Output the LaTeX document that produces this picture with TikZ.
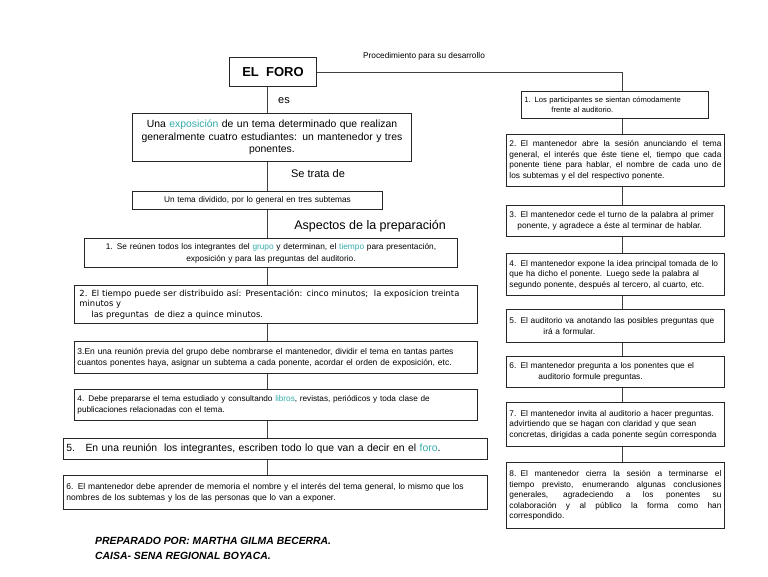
\documentclass[tikz,border=0pt]{standalone}
\usepackage{fontspec}
\setmainfont{Liberation Sans}
\newfontfamily\tahoma{DejaVu Sans}
\usetikzlibrary{positioning,calc}
\definecolor{verdeazul}{RGB}{51,170,170}
\newcommand{\resalta}[1]{\textcolor{verdeazul}{#1}}
\newcommand{\linea}[1]{\makebox[\linewidth][s]{\spaceskip=.28em plus 1fil\relax #1}}
\tikzset{
  caja/.style={draw=black!85,line width=0.9pt,inner sep=3pt,anchor=north west,
    font=\fontsize{8.2}{11}\selectfont},
  cajader/.style={caja,font=\fontsize{8.3}{10.5}\selectfont,align=left,
    text width=212pt,minimum width=218pt},
  tam/.style 2 args={minimum width=#1pt,minimum height=#2pt},
  eje/.style={black!75,line width=0.9pt},
  rotulo/.style={inner sep=0pt},
}

\begin{document}
\begin{tikzpicture}[x=1pt,y=-1pt]
  \useasboundingbox (0,0) rectangle (768,576);
  \coordinate (ejeI) at (267,0);
  \coordinate (ejeD) at (622,0);

  % columna izquierda
  \node[caja,tam={87}{29},font=\fontsize{13}{15}\selectfont\bfseries] (foro) at (229,57) {EL\ \ FORO};
  \node[rotulo,font=\fontsize{8.3}{9}\selectfont] (proc) at (424,56) {Procedimiento para su desarrollo};
  \node[rotulo,font=\fontsize{11}{13}\selectfont] (es) at (284,101) {es};
  \node[caja,tam={279}{48},text width=273pt,align=center,font=\fontsize{10.4}{12.5}\selectfont] (expo) at (132,113)
    {Una \resalta{exposición} de un tema determinado que realizan\\generalmente cuatro estudiantes: un mantenedor y tres\\ponentes.};
  \node[rotulo,font=\fontsize{11}{13}\selectfont] (trata) at (318,174) {Se trata de};
  \node[caja,tam={250}{18},text width=244pt,align=center,font=\fontsize{8.3}{9}\selectfont] (tema) at (132,191)
    {Un tema dividido, por lo general en tres subtemas};
  \node[rotulo,font=\fontsize{12.5}{14}\selectfont] (aspectos) at (370,226) {Aspectos de la preparación};
  \node[caja,tam={373}{29},text width=367pt,align=center,font=\fontsize{8.3}{12}\selectfont] (b1) at (84,238)
    {1. Se reúnen todos los integrantes del \resalta{grupo} y determinan, el \resalta{tiempo} para presentación,\\exposición y para las preguntas del auditorio.};
  \node[caja,tam={403}{38},text width=393pt,inner xsep=5pt,align=left,font=\tahoma\fontsize{8.4}{10.5}\selectfont] (b2) at (74,285)
    {2. El tiempo puede ser distribuido así: Presentación: cinco minutos;\ \ la exposicion treinta\\minutos y\\\hspace*{12pt}las preguntas\ \ de diez a quince minutos.};
  \node[caja,tam={403}{32},text width=397pt,align=left,font=\fontsize{8.5}{11}\selectfont] (b3) at (74,341)
    {3.En una reunión previa del grupo debe nombrarse el mantenedor, dividir el tema en tantas partes\\cuantos ponentes haya, asignar un subtema a cada ponente, acordar el orden de exposición, etc.};
  \node[caja,tam={403}{31},text width=397pt,align=left] (b4) at (74,389)
    {4. Debe prepararse el tema estudiado y consultando \resalta{libros}, revistas, periódicos y toda clase de\\publicaciones relacionadas con el tema.};
  \node[caja,tam={424}{21},text width=418pt,align=left,font=\fontsize{10.4}{12}\selectfont] (b5) at (63,438)
    {5.\ \ \ En una reunión\ \ los integrantes, escriben todo lo que van a decir en el \resalta{foro}.};
  \node[caja,tam={424}{34},text width=418pt,align=left,font=\fontsize{8.5}{11}\selectfont] (b6) at (63,475)
    {6. El mantenedor debe aprender de memoria el nombre y el interés del tema general, lo mismo que los\\nombres de los subtemas y los de las personas que lo van a exponer.};
  \node[rotulo,anchor=north west,align=left,font=\fontsize{10.4}{15}\selectfont\bfseries\itshape] (prep) at (95,537)
    {PREPARADO POR: MARTHA GILMA BECERRA.\\CAISA- SENA REGIONAL BOYACA.};

  % columna derecha
  \node[cajader,tam={187}{27},text width=181pt,font=\fontsize{7.6}{10.5}\selectfont] (r1) at (521,91)
    {1. Los participantes se sientan cómodamente\\\hspace*{27pt}frente al auditorio.};
  \node[cajader,minimum height=52pt] (r2) at (506,134)
    {\linea{2. El mantenedor abre la sesión anunciando el tema}\\
     \linea{general, el interés que éste tiene el, tiempo que cada}\\
     \linea{ponente tiene para hablar, el nombre de cada uno de}\\
     los subtemas y el del respectivo ponente.};
  \node[cajader,minimum height=31pt] (r3) at (506,205)
    {3. El mantenedor cede el turno de la palabra al primer\\\hspace*{8pt}ponente, y agradece a éste al terminar de hablar.};
  \node[cajader,minimum height=42pt] (r4) at (506,253)
    {4. El mantenedor expone la idea principal tomada de lo\\que ha dicho el ponente. Luego sede la palabra al\\segundo ponente, después al tercero, al cuarto, etc.};
  \node[cajader,minimum height=33pt] (r5) at (506,309)
    {5. El auditorio va anotando las posibles preguntas que\\\hspace*{34pt}irá a formular.};
  \node[cajader,minimum height=31pt] (r6) at (506,356)
    {6. El mantenedor pregunta a los ponentes que el\\\hspace*{29pt}auditorio formule preguntas.};
  \node[cajader,minimum height=44pt] (r7) at (506,402)
    {7. El mantenedor invita al auditorio a hacer preguntas.\\advirtiendo que se hagan con claridad y que sean\\concretas, dirigidas a cada ponente según corresponda};
  \node[cajader,minimum height=66pt] (r8) at (506,462)
    {\linea{8. El mantenedor cierra la sesión a terminarse el}\\
     \linea{tiempo previsto, enumerando algunas conclusiones}\\
     \linea{generales, agradeciendo a los ponentes su}\\
     \linea{colaboración y al público la forma como han}\\
     correspondido.};

  % conectores
  \draw[eje] (foro.south -| ejeI) -- (expo.north -| ejeI);
  \draw[eje] (expo.south -| ejeI) -- (tema.north -| ejeI);
  \draw[eje] (tema.south -| ejeI) -- (b1.north -| ejeI);
  \draw[eje] (b1.south -| ejeI) -- (b2.north -| ejeI);
  \draw[eje] (b2.south -| ejeI) -- (b3.north -| ejeI);
  \draw[eje] (b3.south -| ejeI) -- (b4.north -| ejeI);
  \draw[eje] (b4.south -| ejeI) -- (b5.north -| ejeI);
  \draw[eje] (b5.south -| ejeI) -- (b6.north -| ejeI);
  \draw[eje] (foro.east) -| (ejeD |- r1.north);
  \draw[eje] (r1.south -| ejeD) -- (r2.north -| ejeD);
  \draw[eje] (r2.south -| ejeD) -- (r3.north -| ejeD);
  \draw[eje] (r3.south -| ejeD) -- (r4.north -| ejeD);
  \draw[eje] (r4.south -| ejeD) -- (r5.north -| ejeD);
  \draw[eje] (r5.south -| ejeD) -- (r6.north -| ejeD);
  \draw[eje] (r6.south -| ejeD) -- (r7.north -| ejeD);
  \draw[eje] (r7.south -| ejeD) -- (r8.north -| ejeD);
\end{tikzpicture}
\end{document}
